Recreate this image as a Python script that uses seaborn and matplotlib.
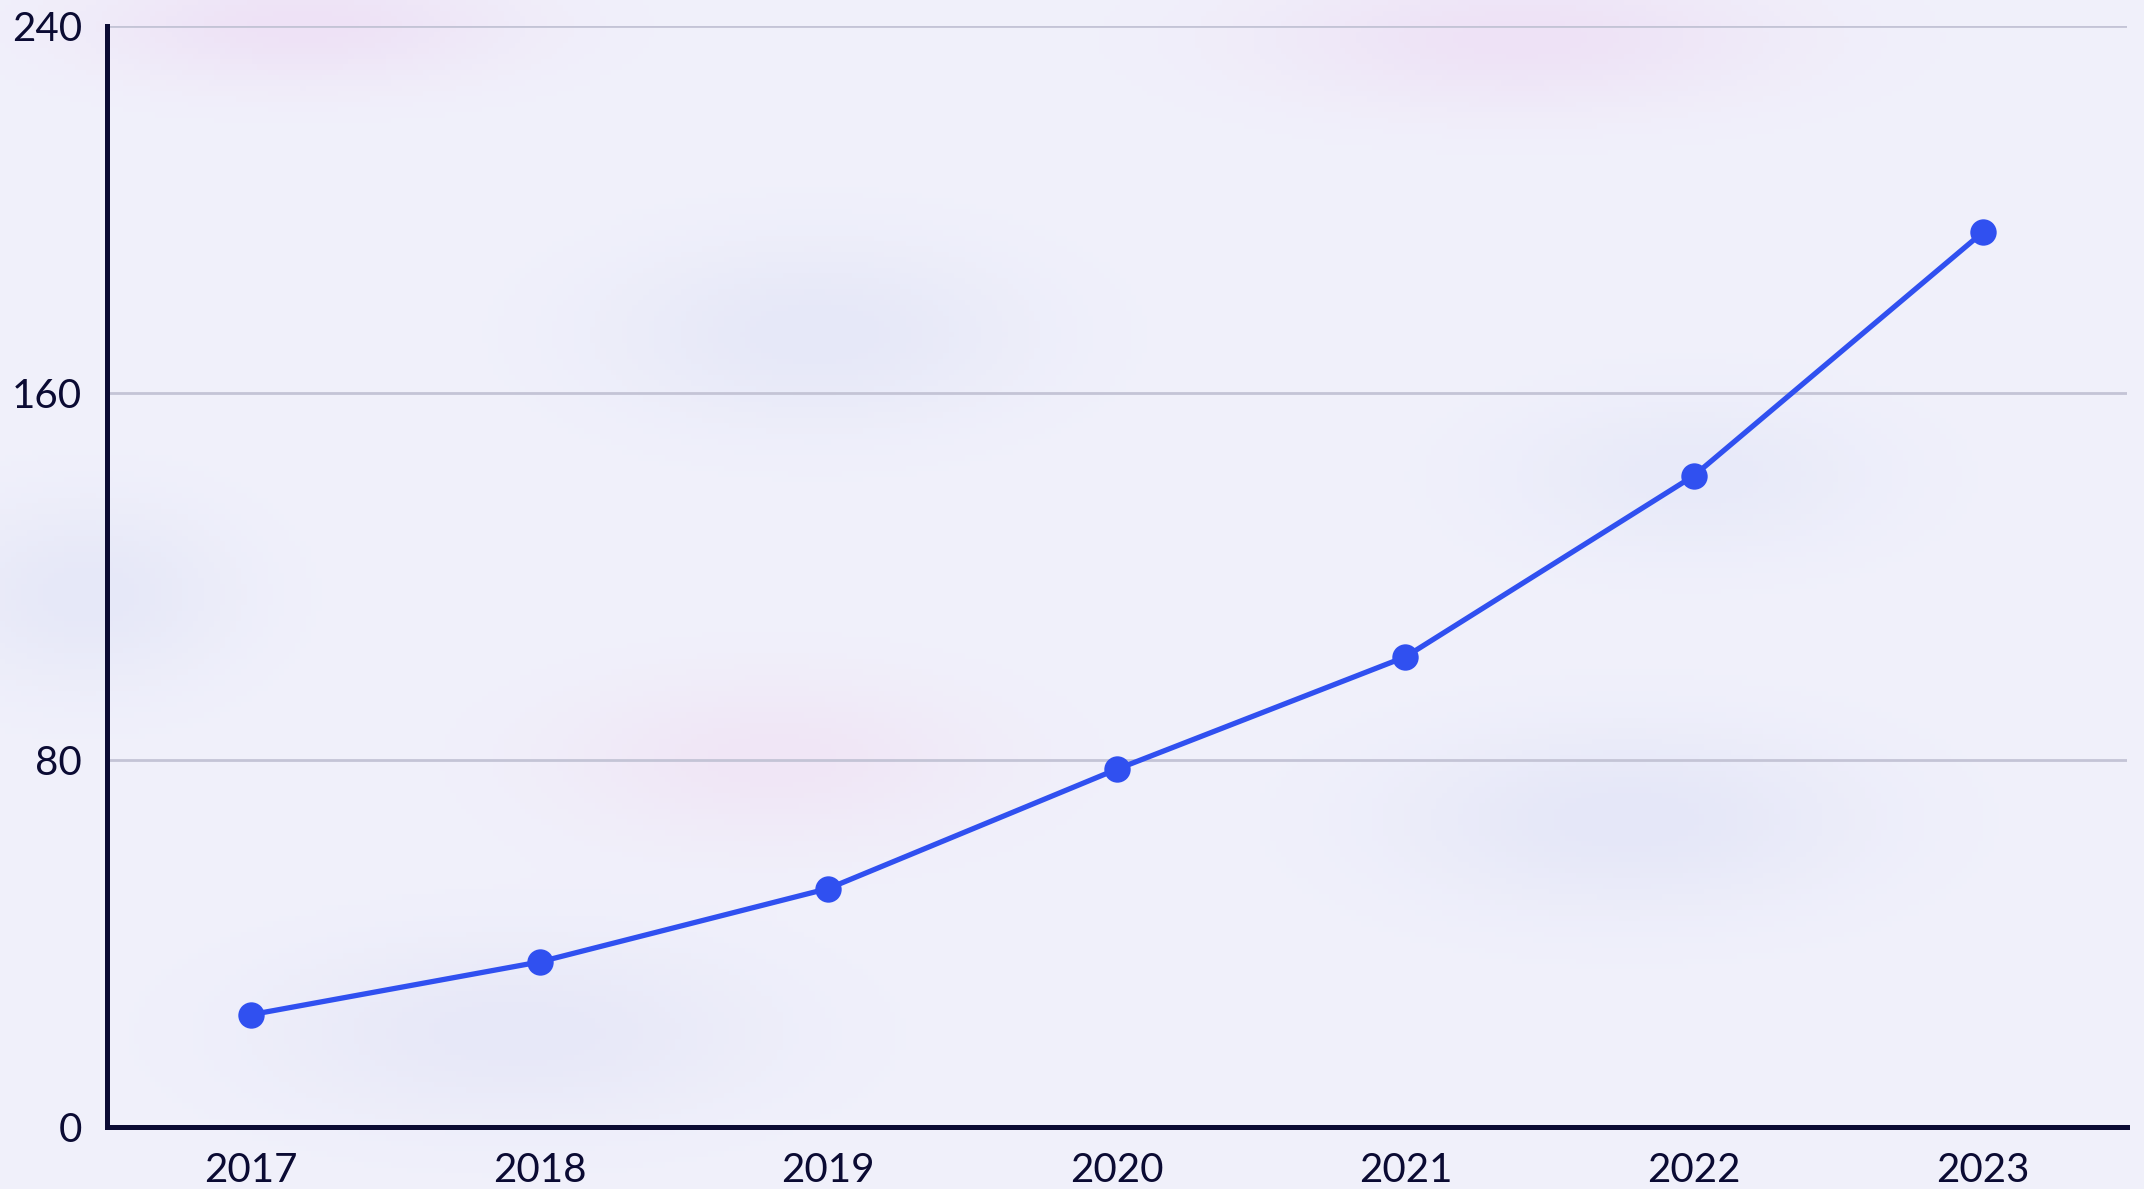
import numpy as np
import pandas as pd
import matplotlib.pyplot as plt
import seaborn as sns

years = [2017, 2018, 2019, 2020, 2021, 2022, 2023]
values = [24.5, 36, 52, 78, 102.5, 142, 195]
y_ticks = [0, 80, 160, 240]

df = pd.DataFrame({"year": years, "value": values})

sns.set_style("white")
plt.rcParams['font.family'] = ['Lato', 'DejaVu Sans']

ink = "#0b0b33"
bg = "#f1f1fb"

fig = plt.figure(figsize=(21.44, 11.89), dpi=100)
fig.patch.set_facecolor(bg)

# soft background blobs (decoration)
bgax = fig.add_axes([0, 0, 1, 1], zorder=-1)
W, H = 400, 222
xx, yy = np.meshgrid(np.linspace(0, 1, W), np.linspace(0, 1, H))
img = np.ones((H, W, 3)) * np.array([241, 241, 251]) / 255
blobs = [
    (0.14, 0.02, 0.10, 0.05, (238, 226, 246)),
    (0.71, 0.03, 0.12, 0.06, (238, 226, 246)),
    (0.38, 0.28, 0.10, 0.08, (230, 232, 248)),
    (0.79, 0.40, 0.09, 0.07, (232, 234, 249)),
    (0.04, 0.50, 0.07, 0.08, (230, 232, 248)),
    (0.36, 0.64, 0.10, 0.07, (240, 230, 246)),
    (0.76, 0.69, 0.11, 0.08, (229, 231, 248)),
    (0.24, 0.87, 0.12, 0.08, (231, 232, 248)),
]
for cx, cy, sx, sy, col in blobs:
    w = np.exp(-(((xx - cx) / sx) ** 2 + ((yy - cy) / sy) ** 2))[..., None]
    img = img * (1 - w) + np.array(col) / 255 * w
bgax.imshow(img, aspect="auto", extent=[0, 1, 1, 0])
bgax.axis("off")

ax = fig.add_axes([0.0499, 0.0521, 0.9421, 0.9260])
ax.set_facecolor("none")

ax.grid(axis="y", color="#c4c4d6", linewidth=2)
ax.set_axisbelow(True)

sns.lineplot(data=df, x="year", y="value", ax=ax, color="#3050f0",
             linewidth=3.8, marker="o", markersize=19, markeredgewidth=0)

ax.set_xlim(2016.5, 2023.5)
ax.set_ylim(0, 240)
ax.set_xticks(years)
ax.set_yticks(y_ticks)
ax.set_xlabel("")
ax.set_ylabel("")

for side in ["top", "right"]:
    ax.spines[side].set_visible(False)
for side in ["left", "bottom"]:
    ax.spines[side].set_color(ink)
    ax.spines[side].set_linewidth(3.6)

ax.tick_params(axis="both", colors=ink, labelcolor=ink, labelsize=29,
               width=3.6, length=14, direction="out")
ax.tick_params(axis="x", pad=4)
ax.tick_params(axis="y", pad=4)

fig.savefig("out.png", dpi=100, facecolor=bg)
